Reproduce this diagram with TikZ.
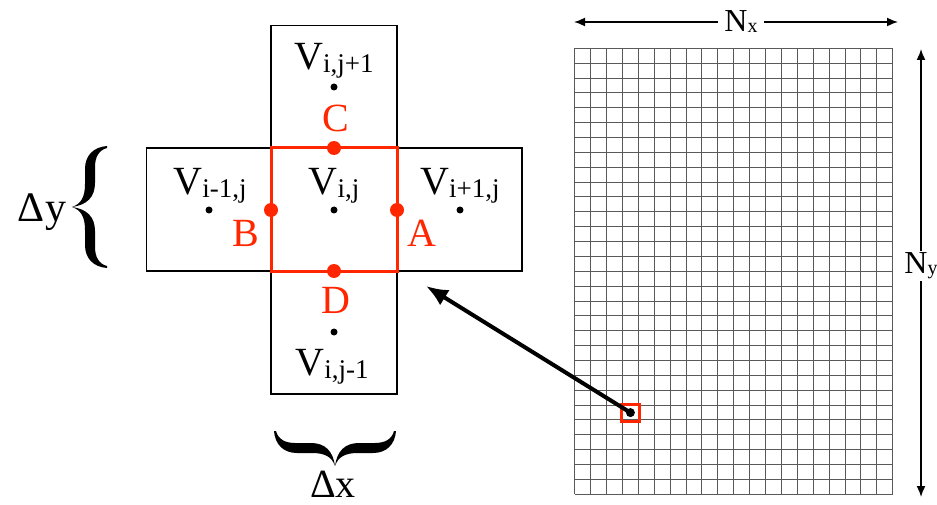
\documentclass[tikz,border=0pt]{standalone}
\usepackage{fontspec}
\setmainfont{Liberation Serif}
\usetikzlibrary{arrows.meta}
\definecolor{cellred}{RGB}{255,38,0}
\newcommand\cellV[1]{V\raisebox{-3pt}{\fontsize{27}{28}\selectfont #1}}
\newcommand\gridN[1]{N\raisebox{-1pt}{\fontsize{20}{20}\selectfont #1}}
% one half of a curly brace, tip at (0,0), end at (35,-60)
\newcommand\bracehalf{(0,0) .. controls (9,-3) and (13,-10) .. (13,-23) -- (13,-38)
	.. controls (13,-52) and (22,-60) .. (35,-61) -- (35,-59)
	.. controls (27,-57) and (23,-50) .. (23,-40) -- (23,-24)
	.. controls (23,-10) and (15,-2) .. (0,0) -- cycle}
\tikzset{
	cellbox/.style={draw, line width=1.5pt},
	redbox/.style={draw=cellred, line width=3pt},
	bigtext/.style={font=\fontsize{40}{44}\selectfont, inner sep=0pt, anchor=base, text depth=0pt},
	redtext/.style={bigtext, text=cellred},
	axistext/.style={font=\fontsize{32}{34}\selectfont, inner xsep=6pt, inner ysep=2pt},
	blackdot/.style={circle, fill=black, minimum size=7pt, inner sep=0pt},
	reddot/.style={circle, fill=cellred, minimum size=14pt, inner sep=0pt},
	gridline/.style={draw=black!65, line width=1pt},
	dimarrow/.style={line width=1.6pt, -{Latex[length=11pt,width=9pt]}},
}
\begin{document}
\begin{tikzpicture}[x=1pt, y=-1pt]
	\useasboundingbox (0,0) rectangle (937,505);
	% five cells
	\draw[cellbox] (271,25.7) rectangle (397,148);
	\draw[cellbox] (146.7,148) rectangle (522,271);
	\draw[cellbox] (271,271) rectangle (397,394);
	\draw[redbox] (271,148) rectangle (397,271);
	% cell centres
	\node[blackdot] (vc) at (334,210) {};
	\node[blackdot] (vl) at (209,210) {};
	\node[blackdot] (vr) at (460,210) {};
	\node[blackdot] (vt) at (334,87) {};
	\node[blackdot] (vb) at (334,332) {};
	\node[bigtext] (tc) at (334,195) {\cellV{i,j}};
	\node[bigtext] (tl) at (210,195) {\cellV{i-1,j}};
	\node[bigtext] (tr) at (460,195) {\cellV{i+1,j}};
	\node[bigtext] (tt) at (334,70) {\cellV{i,j+1}};
	\node[bigtext] (tb) at (332,375) {\cellV{i,j-1}};
	% face points
	\node[reddot] (pa) at (397,210) {};
	\node[reddot] (pb) at (271,210) {};
	\node[reddot] (pc) at (334,148) {};
	\node[reddot] (pd) at (334,271) {};
	\node[redtext] (la) at (422,247) {A};
	\node[redtext] (lb) at (246,247) {B};
	\node[redtext] (lc) at (336,132) {C};
	\node[redtext] (ld) at (336,313) {D};
	% cell sizes
	\begin{scope}[shift={(72,207)}]
		\fill \bracehalf;
		\fill[yscale=-1] \bracehalf;
	\end{scope}
	\node[bigtext, font=\fontsize{42}{44}\selectfont] (dy) at (42,222) {Δy};
	\begin{scope}[shift={(335,466)}, x={(0pt,1pt)}, y={(1pt,0pt)}]
		\fill \bracehalf;
		\fill[xscale=-1] \bracehalf;
	\end{scope}
	\node[bigtext] (dx) at (333,497) {Δx};
	% mesh
	\begin{scope}[shift={(574.7,48.3)}]
		\foreach \c in {0,...,20}
			\draw[gridline] (\c*15.9, 0) -- (\c*15.9, 446);
		\foreach \r in {0,...,30}
			\draw[gridline] (0, \r*14.867) -- (318, \r*14.867);
	\end{scope}
	\node[redbox, minimum width=18pt, minimum height=17pt, inner sep=0pt] (pick) at (630.4,412.6) {};
	\node[circle, fill=black, minimum size=9pt, inner sep=0pt] (picktail) at (pick.center) {};
	\coordinate (zoomtip) at (426,286);
	\draw[line width=4pt, -{Latex[length=22pt,width=18pt]}] (picktail.center) -- (zoomtip);
	% mesh size
	\node[axistext] (nx) at (741,22) {\gridN{x}};
	\coordinate (nxleft) at (574,22);
	\coordinate (nxright) at (898,22);
	\draw[dimarrow] (nx.west) -- (nxleft);
	\draw[dimarrow] (nx.east) -- (nxright);
	\node[axistext, inner xsep=0pt] (ny) at (921,266) {\gridN{y}};
	\coordinate (nytop) at (921,49);
	\coordinate (nybot) at (921,497);
	\draw[dimarrow] (nytop |- ny.north) -- (nytop);
	\draw[dimarrow] (nybot |- ny.south) -- (nybot);
\end{tikzpicture}
\end{document}
